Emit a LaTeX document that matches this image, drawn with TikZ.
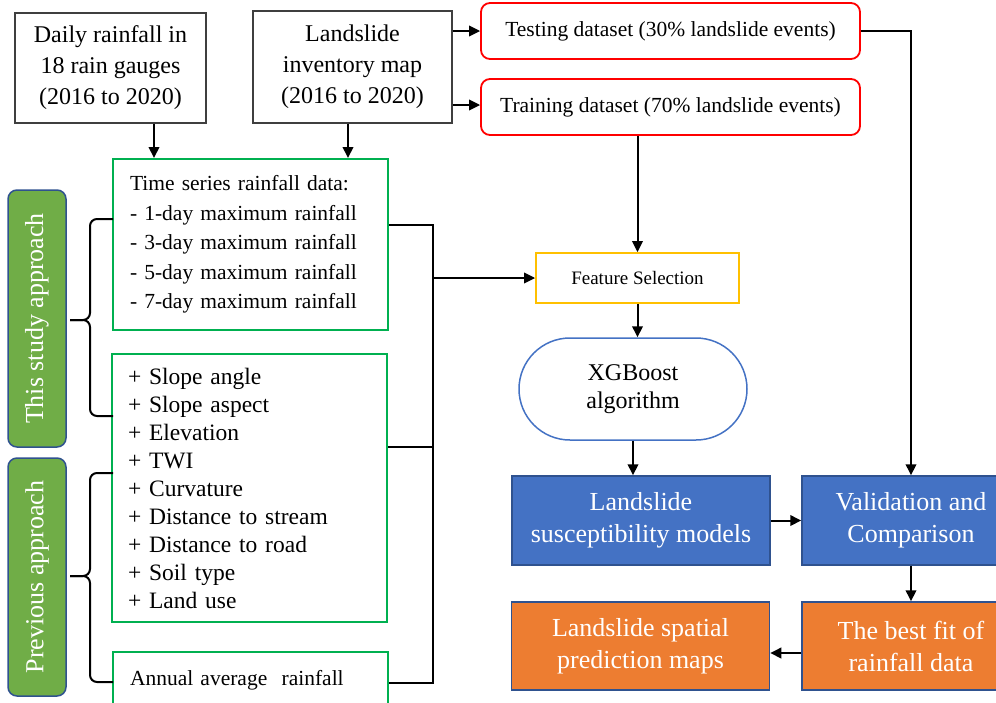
\documentclass[tikz,border=0pt]{standalone}
\usepackage{fontspec}
\setmainfont{Liberation Serif}
\usetikzlibrary{arrows.meta,calc,positioning}
\definecolor{lsFrame}{HTML}{3F3F3F}
\definecolor{lsGreen}{HTML}{00B050}
\definecolor{lsRed}{HTML}{FF0000}
\definecolor{lsGold}{HTML}{FFC000}
\definecolor{lsBlue}{HTML}{4472C4}
\definecolor{lsNavy}{HTML}{2F528F}
\definecolor{lsOrange}{HTML}{ED7D31}
\definecolor{lsLeaf}{HTML}{70AD47}
\tikzset{
 chart/.style={line join=miter,text=black},
 srcbox/.style={draw=lsFrame,line width=1.3pt,fill=white,align=center,inner sep=0pt,
   font={\fontsize{24}{31}\selectfont}},
 splitbox/.style={draw=lsRed,line width=1.8pt,fill=white,rounded corners=9pt,inner sep=0pt,
   minimum width=379pt,minimum height=56pt,font={\fontsize{21.5}{26}\selectfont}},
 listbox/.style={draw=lsGreen,line width=2pt,fill=white,align=left,inner ysep=0pt,
   minimum width=275pt},
 selbox/.style={draw=lsGold,line width=1.8pt,fill=white,inner sep=0pt,
   minimum width=203pt,minimum height=50pt,font={\fontsize{19}{24}\selectfont}},
 algobox/.style={draw=lsBlue,line width=1.5pt,fill=white,align=center,inner sep=0pt,
   minimum width=228pt,minimum height=102pt,rounded corners=51pt,font={\fontsize{24}{28}\selectfont}},
 modelbox/.style={draw=lsNavy,line width=1.5pt,fill=lsBlue,text=white,align=center,inner sep=0pt,
   minimum height=89pt,font={\fontsize{26}{32}\selectfont}},
 outbox/.style={modelbox,fill=lsOrange,minimum height=88pt},
 sidelabel/.style={draw=lsNavy,line width=1.5pt,fill=lsLeaf,text=white,rounded corners=9pt,
   rotate=90,inner sep=0pt,minimum height=58pt,font={\fontsize{26}{30}\selectfont}},
 link/.style={draw=black,line width=2pt},
 flow/.style={link,-{Triangle[length=11pt,width=10.5pt]}},
 curly/.style={draw=black,line width=2pt,rounded corners=7pt}
}
\begin{document}
\begin{tikzpicture}[chart,x=1pt,y=-1pt]
 \useasboundingbox (0,0) rectangle (996,702);
 % data sources
 \node[srcbox,minimum width=191pt,minimum height=110pt] (daily) at (110.5,68)
   {Daily rainfall in\\18 rain gauges\\(2016 to 2020)};
 \node[srcbox,minimum width=199pt,minimum height=112pt] (inventory) at (352.5,67)
   {Landslide\\inventory map\\(2016 to 2020)};
 \node[splitbox] (testing) at (670.5,31) {Testing dataset (30\% landslide events)};
 \node[splitbox] (training) at (670.5,107) {Training dataset (70\% landslide events)};
 % conditioning factors
 \node[listbox,inner xsep=17pt,text width=241pt,minimum height=171pt,
   font={\fontsize{21.5}{29.5}\selectfont}] (series) at (250.5,244.5)
   {Time series rainfall data:\\- 1-day maximum rainfall\\- 3-day maximum rainfall\\
    - 5-day maximum rainfall\\- 7-day maximum rainfall};
 \node[listbox,inner xsep=16pt,text width=243pt,minimum height=268pt,
   font={\fontsize{23.5}{28}\selectfont}] (features) at (249.5,488)
   {+ Slope angle\\+ Slope aspect\\+ Elevation\\+ TWI\\+ Curvature\\
    + Distance to stream\\+ Distance to road\\+ Soil type\\+ Land use};
 \node[listbox,inner xsep=17pt,text width=241pt,minimum height=56pt,
   font={\fontsize{21.5}{26}\selectfont}] (annual) at (250.5,680)
   {Annual average\ \ rainfall};
 % model chain
 \node[selbox] (fsel) at (637.5,278) {Feature Selection};
 \node[algobox] (xgb) at (633,389) {XGBoost\\algorithm};
 \node[modelbox,minimum width=258pt] (models) at (641,520.5) {Landslide\\susceptibility models};
 \node[modelbox,minimum width=218pt] (valid) at (911,520.5) {Validation and\\Comparison};
 \node[outbox,minimum width=218pt] (best) at (911,646) {The best fit of\\rainfall data};
 \node[outbox,minimum width=258pt] (maps) at (640.5,646) {Landslide spatial\\prediction maps};
 % approaches
 \node[sidelabel,minimum width=257pt] (study) at (37,318.5) {This study approach};
 \node[sidelabel,minimum width=238pt] (previous) at (37,577) {Previous approach};
 \draw[curly] (113,219) -| (90,320) -- (70,320);
 \draw[curly] (113,416) -| (90,320) -- (70,320);
 \draw[curly] (113,473) -| (90,576) -- (70,576);
 \draw[curly] (113,682) -| (90,576) -- (70,576);
 % connectors
 \coordinate (bus) at (433,278);
 \draw[flow] ([xshift=43.5pt]daily.south) -- ([xshift=43.5pt]daily.south |- series.north);
 \draw[flow] ([xshift=-4.5pt]inventory.south) -- ([xshift=-4.5pt]inventory.south |- series.north);
 \draw[flow] (inventory.east |- testing.west) -- (testing.west);
 \draw[flow] ([yshift=2pt]inventory.east |- training.west) -- ([yshift=2pt]training.west);
 \draw[flow] (testing.east) -| (valid.north);
 \draw[flow] (fsel.north |- training.south) -- (fsel.north);
 \draw[flow] (fsel.south) -- (fsel.south |- xgb.north);
 \draw[flow] (xgb.south) -- (xgb.south |- models.north);
 \draw[link] ([yshift=19.5pt]series.east) -| ([yshift=-3pt]annual.east -| bus) -- ([yshift=-3pt]annual.east);
 \draw[link] ([yshift=41pt]features.east) -- ([yshift=41pt]features.east -| bus);
 \draw[flow] (bus) -- (fsel.west);
 \draw[flow] (models.east) -- (valid.west);
 \draw[flow] (valid.south) -- (best.north);
 \draw[flow] ([yshift=-7pt]best.west) -- ([yshift=-7pt]maps.east);
\end{tikzpicture}
\end{document}
